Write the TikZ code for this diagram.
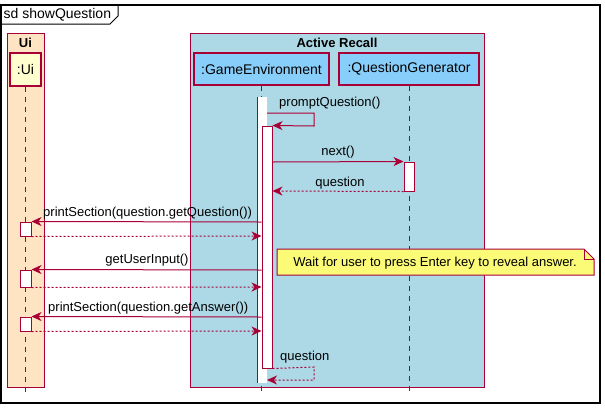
\documentclass[tikz,border=0pt]{standalone}
\usepackage{fontspec}
\setmainfont{Liberation Sans}
\usetikzlibrary{arrows.meta}
\definecolor{pred}{HTML}{A80036}
\definecolor{psky}{HTML}{87CEFA}
\definecolor{pyel}{HTML}{FEFECE}
\definecolor{pblue}{HTML}{ADD8E6}
\definecolor{pbisque}{HTML}{FFE4C4}
\definecolor{pnote}{HTML}{FBFB77}
\tikzset{
  lbl/.style={font=\fontsize{13}{15}\selectfont, inner sep=0pt},
  biglbl/.style={font=\fontsize{14}{16}\selectfont, inner sep=0pt},
  grpbox/.style={draw=pred, line width=1pt},
  partbox/.style={draw=pred, line width=1.3pt, font=\fontsize{14}{16}\selectfont},
  lifeline/.style={draw=pred, line width=1pt, dash pattern=on 5pt off 5pt},
  actbar/.style={draw=pred, fill=white, line width=1pt},
  msg/.style={draw=pred, line width=1pt, -{Stealth[length=10pt,width=9pt,inset=3pt]}},
  ret/.style={msg, dash pattern=on 2pt off 2pt},
}
\begin{document}
\begin{tikzpicture}[x=1pt,y=-1pt]
\useasboundingbox (0,0) rectangle (605,408);
% outer frame
\draw[black, line width=1.5pt] (1,5) rectangle (600,403);
\draw[black, line width=1pt] (1,24) -- (110,24) -- (118,16) -- (118,5);
\node[biglbl, anchor=west] (title) at (3.5,14.5) {sd showQuestion};
% group boxes
\filldraw[grpbox, fill=pbisque] (7,33) rectangle (44,387);
\node[lbl, font=\fontsize{13}{15}\selectfont\bfseries] (uititle) at (25.5,42.5) {Ui};
\filldraw[grpbox, fill=pblue] (190,33) rectangle (484,387);
\node[lbl, font=\fontsize{13}{15}\selectfont\bfseries] (artitle) at (337,42.5) {Active Recall};
% participants
\node[partbox, fill=pyel, minimum width=31pt, minimum height=33pt, inner sep=0pt] (ui) at (25.5,69.5) {:Ui};
\node[partbox, fill=psky, minimum width=135pt, minimum height=32pt, inner sep=0pt] (ge) at (261.5,69) {:GameEnvironment};
\node[partbox, fill=psky, minimum width=140pt, minimum height=32pt, inner sep=0pt] (qg) at (409,69) {:QuestionGenerator};
% lifelines
\coordinate (uiend) at (25.5,392);
\coordinate (geend) at (261.5,392);
\coordinate (qgend) at (409,392);
\draw[lifeline] (ui.south) -- (uiend);
\draw[lifeline] (ge.south) -- (geend);
\draw[lifeline] (qg.south) -- (qgend);
% activations
\fill[white] (257,97) rectangle (267,383);
\draw[pred, line width=1pt] (257,97) -- (257,383);
\node[actbar, minimum width=10pt, minimum height=242pt, inner sep=0pt] (gein) at (267,247) {};
\node[actbar, minimum width=10pt, minimum height=29pt, inner sep=0pt] (qgact) at (409,176.5) {};
\node[actbar, minimum width=11pt, minimum height=14pt, inner sep=0pt] (ua1) at (25.5,229) {};
\node[actbar, minimum width=11pt, minimum height=17pt, inner sep=0pt] (ua2) at (25.5,278.5) {};
\node[actbar, minimum width=11pt, minimum height=14pt, inner sep=0pt] (ua3) at (25.5,324) {};
% promptQuestion self message
\coordinate (pq0) at (267,113);
\coordinate (pq1) at (314,113);
\coordinate (pq2) at (314,126);
\draw[msg] (pq0) -- (pq1) -- (pq2) -- (gein.north east);
\node[lbl, anchor=west] (pqlbl) at (279,103) {promptQuestion()};
% next()
\draw[msg] (gein.east |- 0,162) -- (qgact.north west);
\node[lbl] (nextlbl) at (338,152.5) {next()};
% question return
\draw[ret] (qgact.south west) -- (gein.east |- 0,191);
\node[lbl] (qlbl) at (340,183) {question};
% printSection getQuestion
\draw[msg] (gein.west |- 0,222) -- (ua1.north east);
\node[lbl, anchor=west] (ps1) at (43,213) {printSection(question.getQuestion())};
\draw[ret] (ua1.south east) -- (gein.west |- 0,236);
% getUserInput
\draw[msg] (gein.west |- 0,270) -- (ua2.north east);
\node[lbl] (gui) at (147,260.5) {getUserInput()};
\draw[ret] (ua2.south east) -- (gein.west |- 0,287);
% printSection getAnswer
\draw[msg] (gein.west |- 0,317) -- (ua3.north east);
\node[lbl, anchor=west] (ps2) at (48,308) {printSection(question.getAnswer())};
\draw[ret] (ua3.south east) -- (gein.west |- 0,331);
% question self return
\coordinate (sq1) at (314,367);
\coordinate (sq2) at (314,380);
\coordinate (sq3) at (267,380);
\draw[ret] (gein.south east) -- (sq1) -- (sq2) -- (sq3);
\node[lbl, anchor=west] (sqlbl) at (280,357) {question};
% note
\filldraw[draw=pred, fill=pnote, line width=1pt] (277,249) -- (584,249) -- (594,259) -- (594,275) -- (277,275) -- cycle;
\draw[pred, line width=1pt] (584,249) -- (584,259) -- (594,259);
\node[lbl] (note) at (435,263) {Wait for user to press Enter key to reveal answer.};
\end{tikzpicture}
\end{document}
